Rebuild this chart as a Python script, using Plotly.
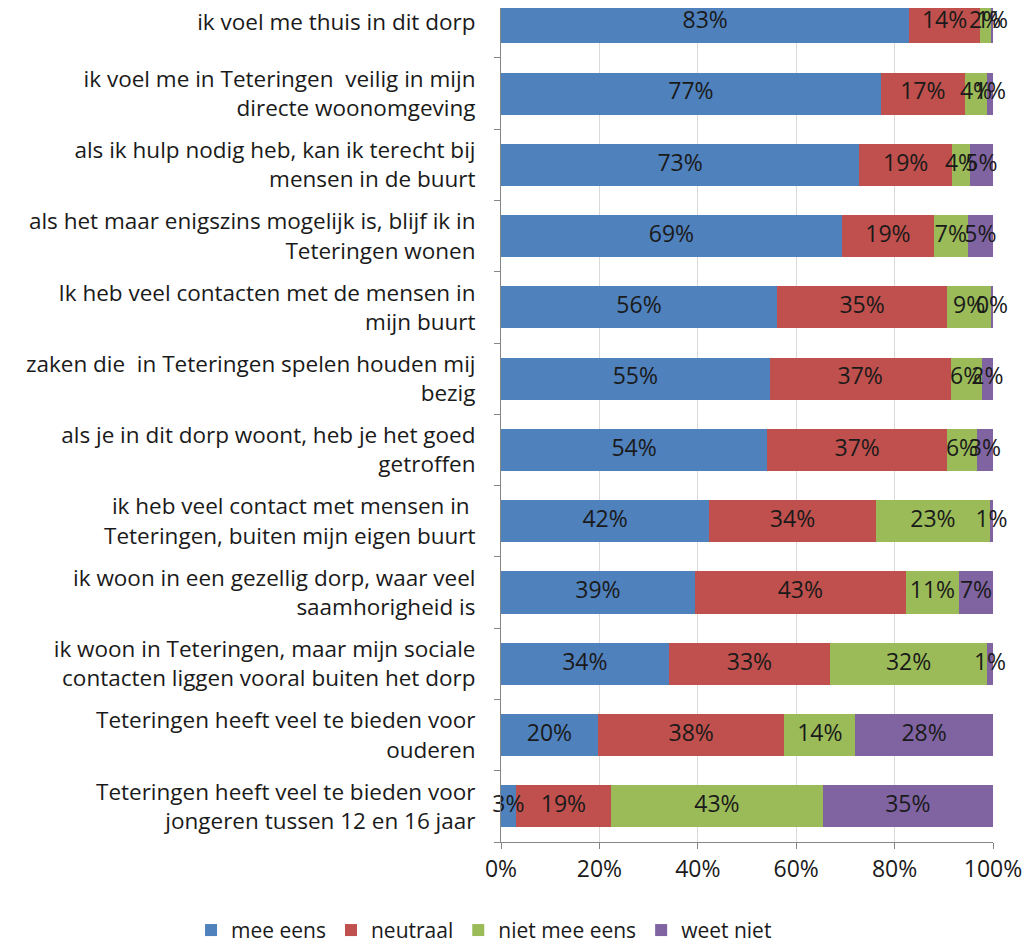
import plotly.graph_objects as go

statements = [
    "ik voel me thuis in dit dorp",
    "ik voel me in Teteringen  veilig in mijn<br>directe woonomgeving",
    "als ik hulp nodig heb, kan ik terecht bij<br>mensen in de buurt",
    "als het maar enigszins mogelijk is, blijf ik in<br>Teteringen wonen",
    "Ik heb veel contacten met de mensen in<br>mijn buurt",
    "zaken die  in Teteringen spelen houden mij<br>bezig",
    "als je in dit dorp woont, heb je het goed<br>getroffen",
    "ik heb veel contact met mensen in <br>Teteringen, buiten mijn eigen buurt",
    "ik woon in een gezellig dorp, waar veel<br>saamhorigheid is",
    "ik woon in Teteringen, maar mijn sociale<br>contacten liggen vooral buiten het dorp",
    "Teteringen heeft veel te bieden voor<br>ouderen",
    "Teteringen heeft veel te bieden voor<br>jongeren tussen 12 en 16 jaar",
]

mee_eens = [83.0, 77.2, 72.8, 69.3, 56.1, 54.6, 54.1, 42.3, 39.4, 34.1, 19.7, 3.0]
neutraal = [14.3, 17.1, 18.9, 18.7, 34.6, 36.8, 36.6, 33.9, 42.9, 32.8, 37.9, 19.4]
niet_mee_eens = [2.2, 4.5, 3.6, 6.9, 8.9, 6.3, 6.0, 23.2, 10.8, 31.9, 14.4, 43.0]
weet_niet = [0.6, 1.2, 4.7, 5.1, 0.4, 2.3, 3.3, 0.6, 6.9, 1.2, 28.0, 34.6]

series = [
    ("mee eens", mee_eens, "#4F81BD"),
    ("neutraal", neutraal, "#C0504D"),
    ("niet mee eens", niet_mee_eens, "#9BBB59"),
    ("weet niet", weet_niet, "#8064A2"),
]

xticks = [0, 20, 40, 60, 80, 100]
xticklabels = ["0%", "20%", "40%", "60%", "80%", "100%"]

FONT = "Open Sans"
TXT = "#1a1a1a"
pos = list(range(len(statements)))

fig = go.Figure()
base = [0.0] * len(pos)
for name, vals, color in series:
    fig.add_trace(go.Bar(
        y=pos, x=vals, name=name, orientation="h",
        marker=dict(color=color, line=dict(width=0)),
        hoverinfo="x+name",
    ))
    mids = [b + v / 2 for b, v in zip(base, vals)]
    fig.add_trace(go.Scatter(
        y=pos, x=mids, mode="text", showlegend=False, hoverinfo="skip",
        text=[f"{round(v):d}%" for v in vals],
        textposition="middle center",
        textfont=dict(family=FONT, size=23, color=TXT),
        cliponaxis=False,
    ))
    base = [b + v for b, v in zip(base, vals)]

fig.update_layout(
    barmode="stack",
    bargap=0.41,
    width=1025, height=934,
    margin=dict(l=493, r=40, t=0, b=100, autoexpand=False),
    paper_bgcolor="white", plot_bgcolor="white",
    font=dict(family=FONT, size=22, color=TXT),
    showlegend=True,
    legend=dict(orientation="h", xref="paper", yref="paper",
                x=-0.63, xanchor="left", y=-0.106, yanchor="middle",
                font=dict(family=FONT, size=21, color=TXT),
                itemwidth=30, traceorder="normal"),
    xaxis=dict(range=[0, 100], tickvals=xticks, ticktext=xticklabels,
               showgrid=True, gridcolor="#d9d9d9", gridwidth=1,
               zeroline=False, showline=True, linecolor="#868686",
               ticks="outside", ticklen=6, tickcolor="#868686",
               automargin=False, ticklabeloverflow="allow",
               tickfont=dict(family=FONT, size=23, color=TXT)),
    yaxis=dict(range=[11.5, -0.2], tickvals=pos, ticktext=statements,
               showgrid=False, zeroline=False, showline=True, linecolor="#868686",
               ticks="", ticklabelstandoff=20, automargin=False,
               ticklabeloverflow="allow",
               minor=dict(tick0=0.5, dtick=1, ticks="outside", ticklen=6,
                          tickcolor="#868686", showgrid=False),
               tickfont=dict(family=FONT, size=22.5, color=TXT)),
)

fig.write_html("out.html")
